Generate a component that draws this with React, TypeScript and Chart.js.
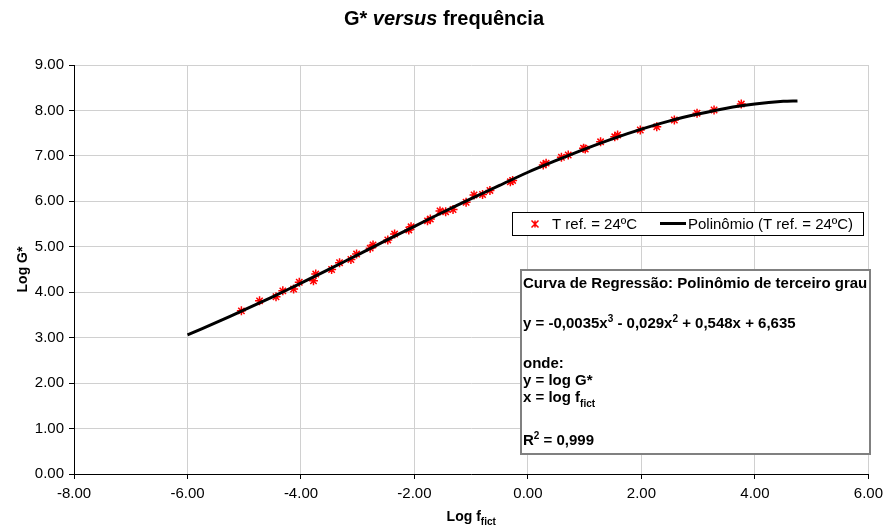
import { useEffect, useRef } from 'react';
import { Chart, registerables } from 'chart.js';

Chart.register(...registerables);

// Measured points (T ref. = 24ºC): x = log f_fict, y = log G*
const measuredLogF = [
  -5.05, -4.73, -4.44, -4.32, -4.13, -4.03, -3.78, -3.74, -3.46, -3.32, -3.12, -3.02,
  -2.78, -2.73, -2.47, -2.35, -2.10, -2.06, -1.77, -1.72, -1.55, -1.45, -1.32, -1.09,
  -0.95, -0.80, -0.67, -0.31, -0.27, 0.27, 0.32, 0.59, 0.71, 0.98, 1.01, 1.28, 1.53,
  1.58, 1.98, 2.27, 2.58, 2.98, 3.28, 3.76,
];
const measuredLogG = [
  3.59, 3.81, 3.90, 4.03, 4.07, 4.22, 4.25, 4.40, 4.50, 4.65, 4.72, 4.84,
  4.97, 5.04, 5.15, 5.28, 5.37, 5.44, 5.57, 5.61, 5.79, 5.77, 5.82, 5.98,
  6.14, 6.15, 6.24, 6.43, 6.46, 6.80, 6.84, 6.97, 7.02, 7.17, 7.15, 7.31, 7.42,
  7.46, 7.57, 7.64, 7.79, 7.94, 8.01, 8.14,
];

// Trendline (Polinômio)
const trendLogF = [
  -6, -5.5, -5, -4.5, -4, -3.5, -3, -2.5, -2, -1.5, -1, -0.5, 0, 0.5, 1, 1.5, 2, 2.5, 3,
  3.5, 4, 4.5, 4.75,
];
const trendLogG = [
  3.06, 3.33, 3.61, 3.90, 4.20, 4.51, 4.82, 5.14, 5.45, 5.76, 6.06, 6.35, 6.64, 6.90,
  7.15, 7.38, 7.59, 7.77, 7.92, 8.05, 8.14, 8.20, 8.21,
];

const title = { a: 'G* ', b: 'versus', c: ' frequência' };
const yAxisTitle = 'Log G*';
const xAxisTitle = { main: 'Log f', sub: 'fict' };
const seriesLabel = 'T ref. = 24ºC';
const trendLabel = 'Polinômio (T ref. = 24ºC)';

const FONT = '"Liberation Sans", Arial, sans-serif';

type Seg = { t: string; sup?: boolean; sub?: boolean; italic?: boolean };

function drawRich(
  ctx: CanvasRenderingContext2D,
  x: number,
  y: number,
  segs: Seg[],
  size: number,
  align: 'left' | 'center',
  bold = true
) {
  const fontFor = (s: Seg) => {
    const sz = s.sup || s.sub ? Math.round(size * 0.68) : size;
    return `${s.italic ? 'italic ' : ''}${bold ? 'bold ' : ''}${sz}px ${FONT}`;
  };
  let total = 0;
  for (const s of segs) {
    ctx.font = fontFor(s);
    total += ctx.measureText(s.t).width;
  }
  let cx = align === 'center' ? x - total / 2 : x;
  ctx.textAlign = 'left';
  ctx.textBaseline = 'alphabetic';
  for (const s of segs) {
    ctx.font = fontFor(s);
    const dy = s.sup ? -size * 0.42 : s.sub ? size * 0.3 : 0;
    ctx.fillText(s.t, cx, y + dy);
    cx += ctx.measureText(s.t).width;
  }
}

const decorPlugin = {
  id: 'decor',
  afterDraw(chart: any) {
    const ctx: CanvasRenderingContext2D = chart.ctx;
    ctx.save();
    ctx.fillStyle = '#000';
    // Title
    drawRich(ctx, 444, 25, [{ t: title.a }, { t: title.b, italic: true }, { t: title.c }], 20, 'center');
    // X axis title
    const ca = chart.chartArea;
    drawRich(ctx, (ca.left + ca.right) / 2, 521, [{ t: xAxisTitle.main }, { t: xAxisTitle.sub, sub: true }], 14, 'center');
    // Y axis title
    ctx.save();
    ctx.translate(27, (ca.top + ca.bottom) / 2);
    ctx.rotate(-Math.PI / 2);
    drawRich(ctx, 0, 0, [{ t: yAxisTitle }], 14, 'center');
    ctx.restore();

    // Legend box
    ctx.fillStyle = '#fff';
    ctx.fillRect(512, 212, 351, 23);
    ctx.strokeStyle = '#000';
    ctx.lineWidth = 1;
    ctx.strokeRect(512.5, 212.5, 351, 23);
    // marker
    ctx.strokeStyle = '#ff0000';
    ctx.lineWidth = 1.5;
    const mx = 535, my = 224, r = 3.5;
    ctx.beginPath();
    ctx.moveTo(mx - r, my - r); ctx.lineTo(mx + r, my + r);
    ctx.moveTo(mx - r, my + r); ctx.lineTo(mx + r, my - r);
    ctx.moveTo(mx, my - r); ctx.lineTo(mx, my + r);
    ctx.stroke();
    ctx.fillStyle = '#000';
    ctx.font = `15px ${FONT}`;
    ctx.textAlign = 'left';
    ctx.textBaseline = 'alphabetic';
    ctx.fillText(seriesLabel, 552, 229);
    ctx.strokeStyle = '#000';
    ctx.lineWidth = 3;
    ctx.beginPath();
    ctx.moveTo(660, 223.5);
    ctx.lineTo(686, 223.5);
    ctx.stroke();
    ctx.fillText(trendLabel, 688, 229);

    // Regression text box
    ctx.fillStyle = '#fff';
    ctx.fillRect(520, 269, 350, 185);
    ctx.strokeStyle = '#808080';
    ctx.lineWidth = 2;
    ctx.strokeRect(521, 270, 349, 184);
    ctx.fillStyle = '#000';
    const tx = 523;
    drawRich(ctx, tx, 288, [{ t: 'Curva de Regressão: Polinômio de terceiro grau' }], 15, 'left');
    drawRich(ctx, tx, 328, [
      { t: 'y = -0,0035x' }, { t: '3', sup: true }, { t: ' - 0,029x' }, { t: '2', sup: true },
      { t: ' + 0,548x + 6,635' },
    ], 15, 'left');
    drawRich(ctx, tx, 368, [{ t: 'onde:' }], 15, 'left');
    drawRich(ctx, tx, 385, [{ t: 'y = log G*' }], 15, 'left');
    drawRich(ctx, tx, 402, [{ t: 'x = log f' }, { t: 'fict', sub: true }], 15, 'left');
    drawRich(ctx, tx, 445, [{ t: 'R' }, { t: '2', sup: true }, { t: ' = 0,999' }], 15, 'left');
    ctx.restore();
  },
};

export default function App() {
  const ref = useRef<HTMLCanvasElement | null>(null);
  useEffect(() => {
    document.body.style.margin = '0';
    const canvas = ref.current!;
    const chart = new Chart(canvas, {
      type: 'scatter',
      data: {
        datasets: [
          {
            label: trendLabel,
            data: trendLogF.map((x, i) => ({ x, y: trendLogG[i] })),
            showLine: true,
            borderColor: '#000',
            borderWidth: 3,
            pointRadius: 0,
            tension: 0.3,
            order: 0,
          } as any,
          {
            label: seriesLabel,
            data: measuredLogF.map((x, i) => ({ x, y: measuredLogG[i] })),
            showLine: false,
            pointStyle: 'star',
            pointRadius: 4.5,
            borderColor: '#ff0000',
            backgroundColor: '#ff0000',
            borderWidth: 1.5,
            order: 1,
          } as any,
        ],
      },
      options: {
        animation: false,
        responsive: false,
        devicePixelRatio: 1,
        layout: { padding: { left: 0, right: 15, top: 65, bottom: 0 } },
        plugins: { legend: { display: false }, tooltip: { enabled: false }, title: { display: false } },
        scales: {
          x: {
            type: 'linear',
            min: -8,
            max: 6,
            afterFit: (s: any) => { s.height = 58; },
            ticks: {
              stepSize: 2,
              callback: (v: any) => Number(v).toFixed(2),
              color: '#000',
              font: { family: FONT, size: 15 },
              padding: 6,
              maxRotation: 0,
            },
            grid: { color: '#d0d0d0', tickColor: '#000', tickLength: 5, lineWidth: 1 },
            border: { color: '#000', width: 1 },
          },
          y: {
            type: 'linear',
            min: 0,
            max: 9,
            afterFit: (s: any) => { s.width = 74; },
            ticks: {
              stepSize: 1,
              callback: (v: any) => Number(v).toFixed(2),
              color: '#000',
              font: { family: FONT, size: 15 },
              padding: 5,
            },
            grid: { color: '#d0d0d0', tickColor: '#000', tickLength: 5, lineWidth: 1 },
            border: { color: '#000', width: 1 },
          },
        },
      },
      plugins: [decorPlugin],
    });
    return () => chart.destroy();
  }, []);
  return (
    <div style={{ position: 'absolute', left: 0, top: 0, width: 889, height: 532 }}>
      <canvas ref={ref} width={889} height={532} style={{ width: 889, height: 532 }} />
    </div>
  );
}
